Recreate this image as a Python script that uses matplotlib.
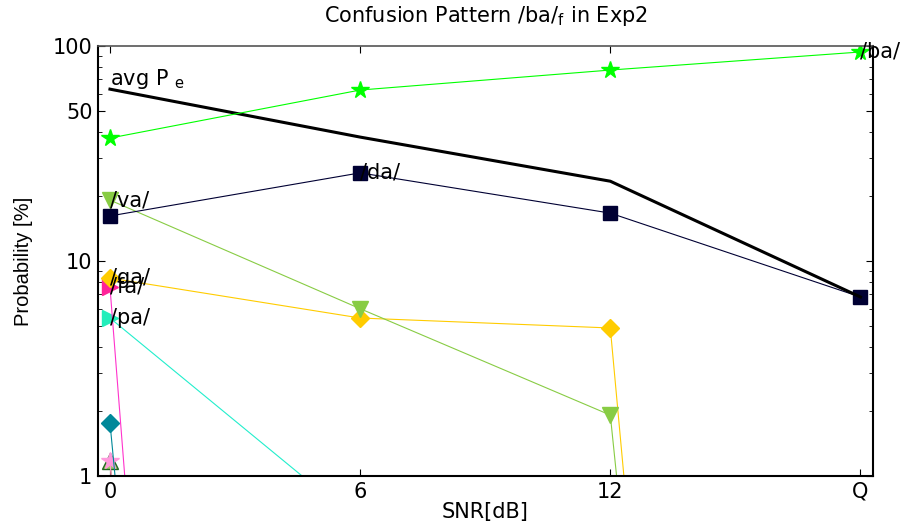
import matplotlib
matplotlib.use("Agg")
import matplotlib.pyplot as plt
import numpy as np

plt.rcParams['font.family'] = ['DejaVu Sans']

x_ticklabels = ['0', '6', '12', 'Q']
x_pos = [0, 1, 2, 3]

# values in percent (tiny values = effectively zero, drawn off-scale like the original)
ba = [37.3, 62.4, 77.3, 93.8]
avg_pe = [63.0, 37.7, 23.5, 6.8]
da = [16.2, 25.7, 16.7, 6.8]
va = [19.2, 6.0, 1.92, 1e-11]
ga = [8.33, 5.43, 4.88, 1e-12]
fa = [7.57, 1e-14, 1e-14, 1e-14]
pa = [5.43, 0.6, 1e-14, 1e-14]
teal = [1.77, 1e-12, 1e-12, 1e-12]
pink = [1.17, 1e-14, 1e-14, 1e-14]
tri = [1.17, 1e-14, 1e-14, 1e-14]

fig = plt.figure(figsize=(9.07, 5.27), dpi=100)
ax = fig.add_axes([0.108, 0.0968, 0.8545, 0.8159])

ax.plot(x_pos, tri, color='#996633', lw=0.8, marker='^', ms=11, mfc='#99cc66', mec='#226622')
ax.plot(x_pos, pink, color='#ff99cc', lw=0.8, marker='*', ms=13, mfc='#ff99dd', mec='#ff99dd')
ax.plot(x_pos, teal, color='#008899', lw=0.8, marker='D', ms=9, mfc='#008899', mec='#008899')
ax.plot(x_pos, pa, color='#22eecc', lw=0.8, marker='>', ms=11, mfc='#22eebb', mec='#22eebb')
ax.plot(x_pos, fa, color='#ff33cc', lw=0.8, marker='>', ms=11, mfc='#ff2299', mec='#ff2299')
ax.plot(x_pos, ga, color='#ffcc00', lw=0.8, marker='D', ms=9.5, mfc='#ffcc00', mec='#ffcc00')
ax.plot(x_pos, va, color='#88cc44', lw=0.8, marker='v', ms=12, mfc='#88cc44', mec='#88cc44')
ax.plot(x_pos, da, color='#000033', lw=0.8, marker='s', ms=9.5, mfc='#000033', mec='#000033')
ax.plot(x_pos, avg_pe, color='black', lw=2.2)
ax.plot(x_pos, ba, color='#00ff00', lw=0.8, marker='*', ms=13, mfc='#00ff00', mec='#00ff00')

fs = 15
ax.text(3, ba[3], '/ba/', fontsize=fs, va='center', ha='left', clip_on=False)
ax.text(0, avg_pe[0] * 1.05, 'avg P $_\\mathregular{e}$', fontsize=fs, va='baseline', ha='left')
ax.text(1, da[1], '/da/', fontsize=fs, va='center', ha='left')
ax.text(0, va[0], '/va/', fontsize=fs, va='center', ha='left')
ax.text(0, ga[0], '/ga/', fontsize=fs, va='center', ha='left')
ax.text(0, fa[0], '/fa/', fontsize=fs, va='center', ha='left')
ax.text(0, pa[0], '/pa/', fontsize=fs, va='center', ha='left')

ax.set_yscale('log')
ax.set_ylim(1, 100)
ax.set_xlim(-0.048, 3.05)
ax.set_xticks(x_pos)
ax.set_xticklabels(x_ticklabels)
ax.set_yticks([1, 10, 50, 100])
ax.set_yticklabels(['1', '10', '50', '100'])
ax.tick_params(axis='both', which='both', direction='in', top=True, right=True, labelsize=15)
ax.tick_params(which='major', length=5)
ax.tick_params(which='minor', length=3)
ax.tick_params(axis='x', pad=4)
ax.tick_params(axis='y', pad=4)
ax.yaxis.set_minor_formatter(matplotlib.ticker.NullFormatter())
for s in ax.spines.values():
    s.set_linewidth(1.5)
ax.spines['top'].set_color('#555555')
ax.spines['top'].set_linewidth(1.2)

ax.set_xlabel('SNR[dB]', fontsize=15, labelpad=0)
ax.set_ylabel('Probability [%]', fontsize=14.5, family=['Liberation Sans Narrow', 'Liberation Sans'], labelpad=14)
ax.set_title('Confusion Pattern /ba/$_\\mathregular{f}$ in Exp2', fontsize=15, pad=17)

fig.savefig('out.png', dpi=100)
